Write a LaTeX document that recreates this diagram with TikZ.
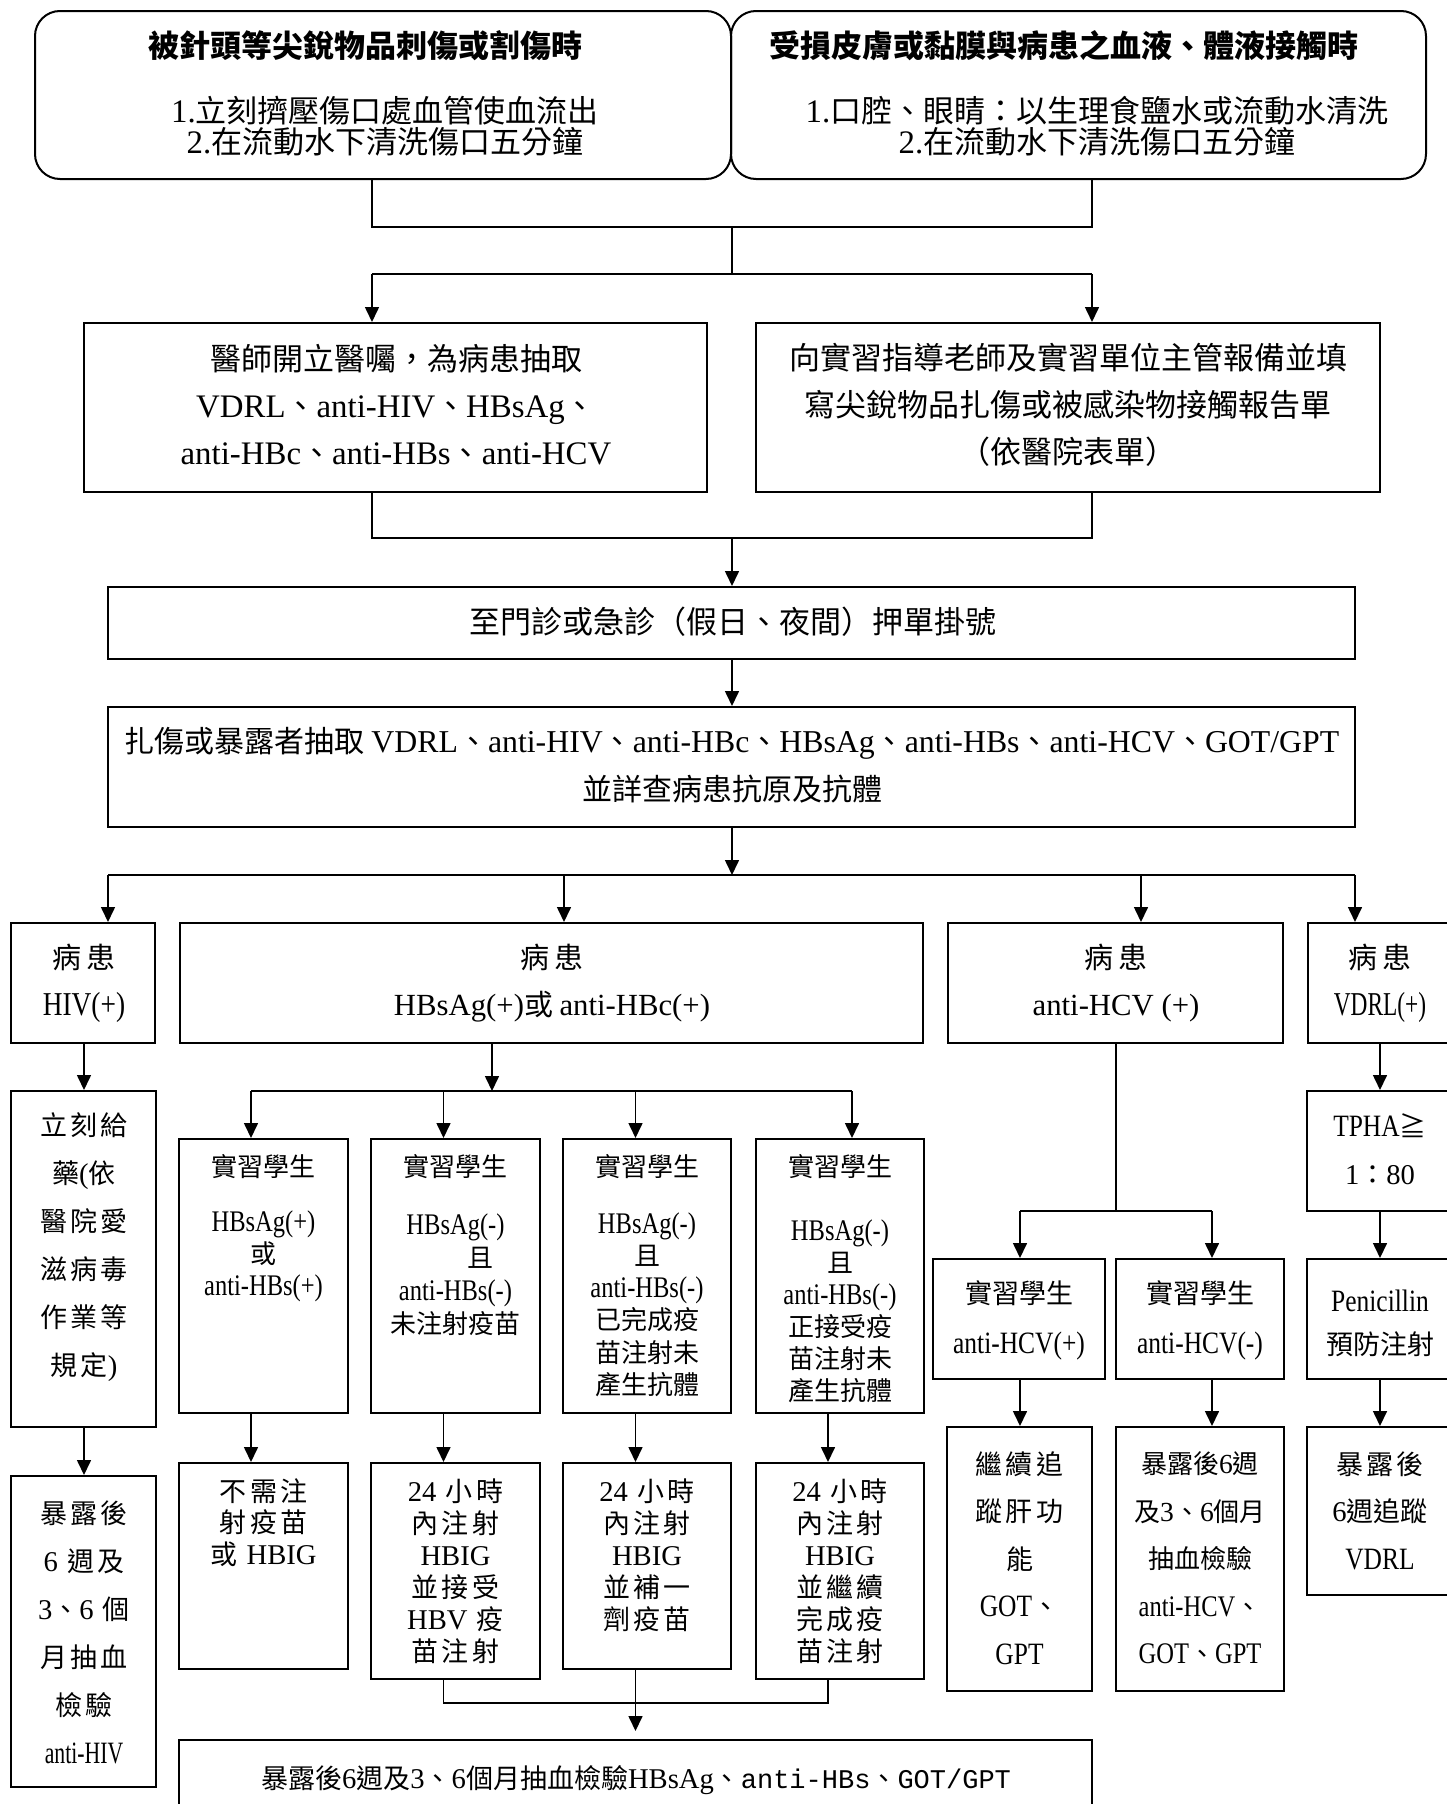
\documentclass[tikz,border=0pt]{standalone}
\usepackage{fontspec}
\setmainfont{Noto Sans CJK TC}
\newfontfamily\cjw{Noto Sans CJK TC}[LetterSpace=12]
\newfontfamily\lat{Liberation Serif}[Scale=1.06]
\newfontfamily\latc{Liberation Serif}[FakeStretch=0.82,Scale=1.15]
\newfontfamily\latcc{Liberation Serif}[FakeStretch=0.7,Scale=1.15]
\newfontfamily\monof{Liberation Mono}
\newcommand\EN[1]{{\lat #1}}
\newcommand\EC[1]{{\latc #1}}
\newcommand\ECC[1]{{\latcc #1}}
\newcommand\EM[1]{{\monof #1}}
\usetikzlibrary{arrows.meta}
\newcommand\mybox[6][]{\node[bx,#1,minimum width={#5-#3},minimum height={#6-#4}] (#2) at ({(#3+#5)/2},{(#4+#6)/2}) {};}
\begin{document}
\begin{tikzpicture}[x=1pt,y=-1pt,
 bx/.style={draw, line width=2pt, inner sep=0pt},
 tx/.style={align=center, inner sep=0pt, text=black},
 conn/.style={line width=1.6pt},
 arr/.style={line width=1.6pt, -{Triangle[length=15pt,width=14pt]}}]
\fill[white] (0,0) rectangle (1447,1804);
\useasboundingbox (0,0) rectangle (1447,1804);

% boxes
\mybox[rounded corners=25pt]{tl}{35}{11}{731}{179}
\mybox[rounded corners=25pt]{tr}{731}{11}{1426}{179}
\mybox{m1}{84}{323}{707}{492}
\mybox{m2}{756}{323}{1380}{492}
\mybox{reg}{108}{587}{1355}{659}
\mybox{dr}{108}{707}{1355}{827}
\mybox{p1}{11}{923}{155}{1043}
\mybox{p2}{180}{923}{923}{1043}
\mybox{p3}{948}{923}{1283}{1043}
\mybox{p4}{1308}{923}{1453}{1043}
\mybox{h1}{11}{1091}{156}{1427}
\mybox{h2}{11}{1476}{156}{1787}
\mybox{s1}{179}{1139}{348}{1413}
\mybox{s2}{371}{1139}{540}{1413}
\mybox{s3}{563}{1139}{731}{1413}
\mybox{s4}{756}{1139}{924}{1413}
\mybox{r1}{179}{1463}{348}{1669}
\mybox{r2}{371}{1463}{540}{1679}
\mybox{r3}{563}{1463}{731}{1669}
\mybox{r4}{756}{1463}{924}{1679}
\mybox{c1}{933}{1259}{1105}{1379}
\mybox{c2}{1116}{1259}{1284}{1379}
\mybox{cr1}{947}{1427}{1092}{1691}
\mybox{cr2}{1116}{1427}{1284}{1691}
\mybox{v1}{1307}{1091}{1453}{1211}
\mybox{v2}{1307}{1259}{1453}{1379}
\mybox{v3}{1307}{1427}{1453}{1595}
\mybox{fin}{179}{1740}{1092}{1840}

% texts
\node[tx,font=\fontsize{31}{32}\selectfont\bfseries] (tlT) at (365,46) {被針頭等尖銳物品刺傷或割傷時};
\node[tx,font=\fontsize{31}{31.5}\selectfont] (tlB) at (385,126) {\EN{1.}立刻擠壓傷口處血管使血流出\\\EN{2.}在流動水下清洗傷口五分鐘};
\node[tx,font=\fontsize{31}{32}\selectfont\bfseries] (trT) at (1064,46) {受損皮膚或黏膜與病患之血液、體液接觸時};
\node[tx,font=\fontsize{31}{31.5}\selectfont] (trB) at (1097,126) {\EN{1.}口腔、眼睛：以生理食鹽水或流動水清洗\\\EN{2.}在流動水下清洗傷口五分鐘};

\node[tx,font=\fontsize{31}{47}\selectfont] (m1t) at (396,405) {醫師開立醫囑，為病患抽取\\\EN{VDRL}、\EN{anti-HIV}、\EN{HBsAg}、\\\EN{anti-HBc}、\EN{anti-HBs}、\EN{anti-HCV}};
\node[tx,font=\fontsize{31}{47}\selectfont] (m2t) at (1068,405) {向實習指導老師及實習單位主管報備並填\\寫尖銳物品扎傷或被感染物接觸報告單\\（依醫院表單）};

\node[tx,font=\fontsize{31}{32}\selectfont] (regt) at (733,622) {至門診或急診（假日、夜間）押單掛號};
\node[tx,font=\fontsize{30}{48}\selectfont] (drt) at (732,765) {扎傷或暴露者抽取 \EN{VDRL}、\EN{anti-HIV}、\EN{anti-HBc}、\EN{HBsAg}、\EN{anti-HBs}、\EN{anti-HCV}、\EN{GOT/GPT}\\並詳查病患抗原及抗體};

\node[tx,font=\fontsize{29}{47}\selectfont] (p1t) at (84,983) {病\,患\\\EC{HIV(+)}};
\node[tx,font=\fontsize{29}{47}\selectfont] (p2t) at (552,983) {病\,患\\\EN{HBsAg(+)}或 \EN{anti-HBc(+)}};
\node[tx,font=\fontsize{29}{47}\selectfont] (p3t) at (1116,983) {病\,患\\\EN{anti-HCV (+)}};
\node[tx,font=\fontsize{29}{47}\selectfont] (p4t) at (1380,983) {病\,患\\\ECC{VDRL(+)}};

\node[tx,font=\fontsize{27}{48}\selectfont\cjw] (h1t) at (84,1247) {立刻給\\藥\EN{(}依\\醫院愛\\滋病毒\\作業等\\規定\EN{)}};
\node[tx,font=\fontsize{27}{48}\selectfont\cjw] (h2t) at (84,1632) {暴露後\\\EN{6} 週及\\\EN{3}、\EN{6} 個\\月抽血\\檢驗\\\ECC{anti-HIV}};

\node[tx,font=\fontsize{26}{32}\selectfont] (s1h) at (263.5,1167) {實習學生};
\node[tx,font=\fontsize{26}{32}\selectfont] (s1t) at (263.5,1256) {\EC{HBsAg(+)}\\或\\\EC{anti-HBs(+)}};
\node[tx,font=\fontsize{26}{32}\selectfont] (s2h) at (455.5,1167) {實習學生};
\node[tx,font=\fontsize{26}{33}\selectfont] (s2t) at (455.5,1275) {\EC{HBsAg(-)}\\\hspace*{50pt}且\\\EC{anti-HBs(-)}\\未注射疫苗};
\node[tx,font=\fontsize{26}{32}\selectfont] (s3h) at (647,1167) {實習學生};
\node[tx,font=\fontsize{26}{32.2}\selectfont] (s3t) at (647,1304.5) {\EC{HBsAg(-)}\\且\\\EC{anti-HBs(-)}\\已完成疫\\苗注射未\\產生抗體};
\node[tx,font=\fontsize{26}{32}\selectfont] (s4h) at (840,1167) {實習學生};
\node[tx,font=\fontsize{26}{32}\selectfont] (s4t) at (840,1311) {\EC{HBsAg(-)}\\且\\\EC{anti-HBs(-)}\\正接受疫\\苗注射未\\產生抗體};

\node[tx,font=\fontsize{27}{31.5}\selectfont\cjw] (r1t) at (263.5,1522.5) {不需注\\射疫苗\\或 \EN{HBIG}};
\node[tx,font=\fontsize{27}{32}\selectfont\cjw] (r2t) at (455.5,1571) {\EN{24} 小時\\內注射\\\EN{HBIG}\\並接受\\\EN{HBV} 疫\\苗注射};
\node[tx,font=\fontsize{27}{32}\selectfont\cjw] (r3t) at (647,1555) {\EN{24} 小時\\內注射\\\EN{HBIG}\\並補一\\劑疫苗};
\node[tx,font=\fontsize{27}{32}\selectfont\cjw] (r4t) at (840,1571) {\EN{24} 小時\\內注射\\\EN{HBIG}\\並繼續\\完成疫\\苗注射};

\node[tx,font=\fontsize{27}{50}\selectfont] (c1t) at (1019,1320) {實習學生\\\EC{anti-HCV(+)}};
\node[tx,font=\fontsize{27}{50}\selectfont] (c2t) at (1200,1320) {實習學生\\\EC{anti-HCV(-)}};
\node[tx,font=\fontsize{27}{47.5}\selectfont\cjw] (cr1t) at (1019.5,1558) {繼續追\\蹤肝功\\能\\\EC{GOT}、\\\EC{GPT}};
\node[tx,font=\fontsize{26}{47.5}\selectfont] (cr2t) at (1200,1558) {暴露後\EN{6}週\\及\EN{3}、\EN{6}個月\\抽血檢驗\\\EC{anti-HCV}、\\\EC{GOT}、\EC{GPT}};

\node[tx,font=\fontsize{27}{48}\selectfont] (v1t) at (1380,1149) {\EC{TPHA}≧\\\EN{1}：\EN{80}};
\node[tx,font=\fontsize{27}{43}\selectfont] (v2t) at (1380,1323.5) {\EC{Penicillin}\\預防注射};
\node[tx,font=\fontsize{27}{47.5}\selectfont] (v3t) at (1380,1510.5) {{\cjw 暴露後}\\\EN{6}週追蹤\\\EC{VDRL}};

\node[tx,font=\fontsize{27}{32}\selectfont] (fint) at (636,1780) {暴露後\EN{6}週及\EN{3}、\EN{6}個月抽血檢驗\EN{HBsAg}、\EM{anti-HBs}、\EM{GOT/GPT}};

% connectors: top
\coordinate (jA) at (372,227);
\coordinate (jB) at (1092,227);
\coordinate (jC) at (732,227);
\coordinate (jD) at (732,274);
\coordinate (jE) at (372,274);
\coordinate (jF) at (1092,274);
\draw[conn] (tl.south -| jA) -- (jA) -- (jB) -- (tr.south -| jB);
\draw[conn] (jC) -- (jD);
\draw[conn] (jE) -- (jF);
\draw[arr] (jE) -- (jE |- m1.north);
\draw[arr] (jF) -- (jF |- m2.north);

\coordinate (kA) at (372,538);
\coordinate (kB) at (1092,538);
\coordinate (kC) at (732,538);
\draw[conn] (m1.south -| kA) -- (kA) -- (kB) -- (m2.south -| kB);
\draw[arr] (kC) -- (kC |- reg.north);
\draw[arr] (reg.south -| kC) -- (dr.north -| kC);

\coordinate (lA) at (732,875);
\coordinate (lL) at (108,875);
\coordinate (lR) at (1355,875);
\coordinate (lB) at (564,875);
\coordinate (lC) at (1141,875);
\draw[conn] (lL) -- (lR);
\draw[arr] (dr.south -| lA) -- (lA);
\draw[arr] (lL) -- (lL |- p1.north);
\draw[arr] (lB) -- (lB |- p2.north);
\draw[arr] (lC) -- (lC |- p3.north);
\draw[arr] (lR) -- (lR |- p4.north);

% HIV column
\coordinate (hX) at (84,0);
\draw[arr] (p1.south -| hX) -- (h1.north -| hX);
\draw[arr] (h1.south -| hX) -- (h2.north -| hX);

% HBsAg branch
\coordinate (sJ) at (492,1091);
\coordinate (sL) at (251,1091);
\coordinate (sM) at (443.5,1091);
\coordinate (sN) at (635.5,1091);
\coordinate (sR) at (852,1091);
\coordinate (sQ) at (828,1091);
\draw[conn] (sL) -- (sR);
\draw[arr] (p2.south -| sJ) -- (sJ);
\draw[arr] (sL) -- (sL |- s1.north);
\draw[arr] (sM) -- (sM |- s2.north);
\draw[arr] (sN) -- (sN |- s3.north);
\draw[arr] (sR) -- (sR |- s4.north);
\draw[arr] (s1.south -| sL) -- (r1.north -| sL);
\draw[arr] (s2.south -| sM) -- (r2.north -| sM);
\draw[arr] (s3.south -| sN) -- (r3.north -| sN);
\draw[arr] (s4.south -| sQ) -- (r4.north -| sQ);
\coordinate (bA) at (443.5,1703);
\coordinate (bB) at (828,1703);
\coordinate (bC) at (635.5,1731);
\draw[conn] (r2.south -| bA) -- (bA) -- (bB) -- (r4.south -| bB);
\draw[arr] (r3.south -| bC) -- (bC);

% HCV branch
\coordinate (cJ) at (1116,1211);
\coordinate (cL) at (1020,1211);
\coordinate (cR) at (1212,1211);
\draw[conn] (p3.south -| cJ) -- (cJ);
\draw[conn] (cL) -- (cR);
\draw[arr] (cL) -- (cL |- c1.north);
\draw[arr] (cR) -- (cR |- c2.north);
\draw[arr] (c1.south -| cL) -- (cr1.north -| cL);
\draw[arr] (c2.south -| cR) -- (cr2.north -| cR);

% VDRL column
\coordinate (vX) at (1380,0);
\draw[arr] (p4.south -| vX) -- (v1.north -| vX);
\draw[arr] (v1.south -| vX) -- (v2.north -| vX);
\draw[arr] (v2.south -| vX) -- (v3.north -| vX);
\end{tikzpicture}
\end{document}
